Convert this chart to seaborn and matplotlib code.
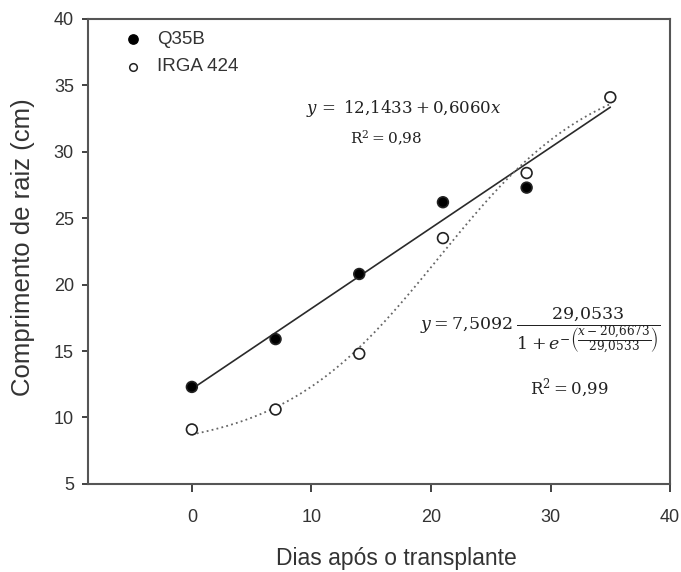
import numpy as np
import pandas as pd
import matplotlib
matplotlib.use("Agg")
import matplotlib.pyplot as plt
import seaborn as sns

sns.set_style("ticks")
plt.rcParams["font.family"] = ["Liberation Sans Narrow", "Liberation Sans", "DejaVu Sans"]
plt.rcParams["mathtext.fontset"] = "dejavuserif"

# dados
dias_q35b = [0, 7, 14, 21, 28]
comp_q35b = [12.3, 15.9, 20.8, 26.2, 27.3]
dias_irga = [0, 7, 14, 21, 28, 35]
comp_irga = [9.1, 10.6, 14.8, 23.5, 28.4, 34.1]

# parâmetros dos ajustes
lin_a, lin_b = 12.1433, 0.6060
log_y0, log_a, log_x0, log_b = 7.5092, 29.0533, 20.6673, 6.6

df = pd.concat([
    pd.DataFrame({"Dias": dias_q35b, "Comp": comp_q35b, "Cultivar": "Q35B"}),
    pd.DataFrame({"Dias": dias_irga, "Comp": comp_irga, "Cultivar": "IRGA 424"}),
])

xs = np.linspace(0, 35, 200)
fit_lin = pd.DataFrame({"x": xs, "y": lin_a + lin_b * xs})
fit_log = pd.DataFrame({"x": xs, "y": log_y0 + log_a / (1 + np.exp(-(xs - log_x0) / log_b))})

fig = plt.figure(figsize=(6.81, 5.72), dpi=100)
ax = fig.add_axes([0.129, 0.154, 0.855, 0.813])

sns.lineplot(data=fit_lin, x="x", y="y", color="#2a2a2a", lw=1.2, ax=ax)
sns.lineplot(data=fit_log, x="x", y="y", color="#666666", lw=1.3, ls=(0, (1, 1.8)), ax=ax)

sns.scatterplot(data=df, x="Dias", y="Comp", hue="Cultivar",
                palette={"Q35B": "black", "IRGA 424": "white"},
                edgecolor="#222222", linewidth=1.2, s=60, ax=ax, zorder=3, legend=False)

ax.set_xlim(-8.7, 40)
ax.set_ylim(5, 40)
ax.set_xticks([0, 10, 20, 30, 40])
ax.set_yticks([5, 10, 15, 20, 25, 30, 35, 40])
ax.tick_params(axis="x", length=6, width=1.3, pad=12, labelsize=13, colors="#333333")
ax.tick_params(axis="y", length=4, width=1.3, pad=6, labelsize=13, colors="#333333")
for s in ax.spines.values():
    s.set_color("#555555")
    s.set_linewidth(1.5)

ax.set_xlabel("Dias após o transplante", fontsize=16.5, color="#333333")
ax.set_ylabel("Comprimento de raiz (cm)", fontsize=18.5, color="#333333")
ax.xaxis.set_label_coords(0.53, -0.136)
ax.yaxis.set_label_coords(-0.091, 0.51)

# legenda
ax.scatter([-4.9], [38.45], s=45, color="black", zorder=5)
ax.scatter([-4.9], [36.4], s=30, facecolor="white", edgecolor="#222222", lw=1.1, zorder=5)
ax.text(-2.9, 38.45, "Q35B", fontsize=13.5, va="center", color="#333333")
ax.text(-2.9, 36.4, "IRGA 424", fontsize=13.5, va="center", color="#333333")

# equações
ax.text(17.7, 33.25, r"$y\,=\;12{,}1433+0{,}6060x$", fontsize=12, ha="center", va="center", color="#222222")
ax.text(13.2, 31.0, r"$\mathrm{R^{2}=0{,}98}$", fontsize=11, ha="left", va="center", color="#222222")
ax.text(19.1, 16.6, r"$y=7{,}5092\;\dfrac{29{,}0533}{1+e^{-\left(\dfrac{x-20{,}6673}{29{,}0533}\right)}}$",
        fontsize=12.5, ha="left", va="center", color="#222222")
ax.text(28.3, 12.2, r"$\mathrm{R^{2}=0{,}99}$", fontsize=12, ha="left", va="center", color="#222222")

fig.savefig("out.png", dpi=100)
